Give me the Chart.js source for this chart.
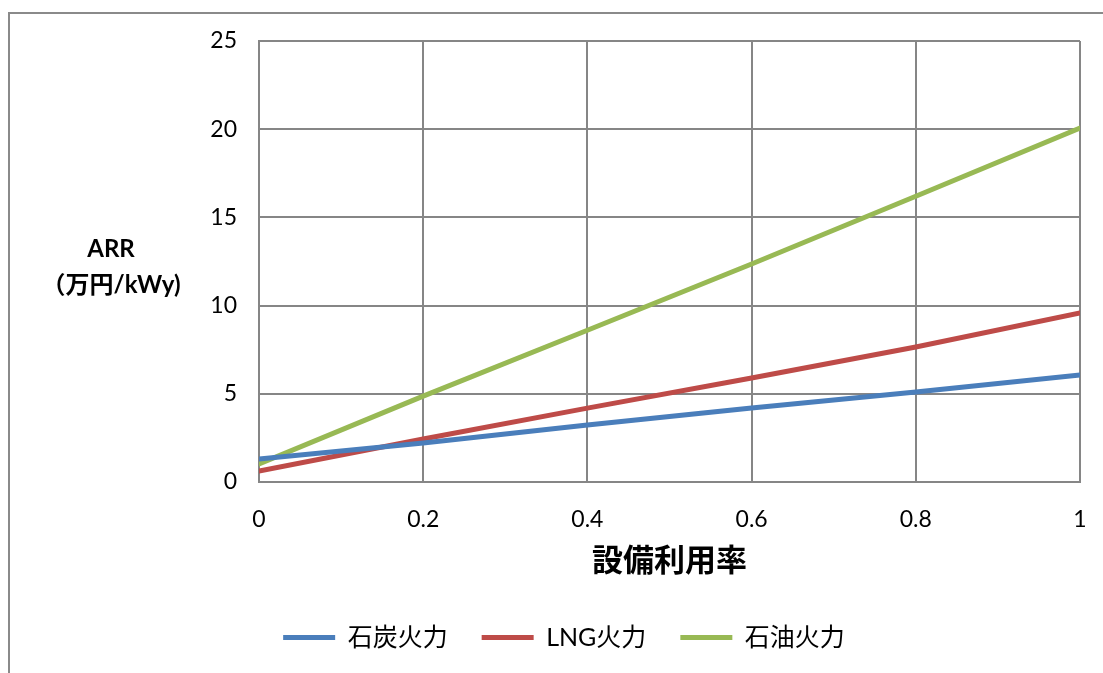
<!DOCTYPE html>
<html>
<head>
<meta charset="utf-8">
<script src="https://cdn.jsdelivr.net/npm/chart.js@4"></script>
<style>
  html, body { margin: 0; padding: 0; background: #fff; }
  #frame {
    position: absolute; left: 8px; top: 12px; width: 1200px; height: 700px;
    border-left: 2px solid #8a8a8a; border-top: 2px solid #8a8a8a;
  }
  #wrap { position: absolute; left: 0; top: 0; width: 1103px; height: 673px; }
</style>
</head>
<body>
<div id="frame"></div>
<div id="wrap"><canvas id="arrChart" width="1103" height="673"></canvas></div>
<script>
// 設備利用率 (x) に対する ARR 値
const utilization = [0, 0.2, 0.4, 0.6, 0.8, 1];
const coal = [1.3, 2.21, 3.23, 4.19, 5.1, 6.07];
const lng = [0.62, 2.44, 4.19, 5.9, 7.65, 9.58];
const oil = [1.02, 4.87, 8.6, 12.36, 16.2, 20.07];

const seriesNames = ['石炭火力', 'LNG火力', '石油火力'];
const seriesColors = ['#4a7ebb', '#be4b48', '#98b954'];
const yTitleLines = ['ARR', '（万円/kWy)'];
const xTitle = '設備利用率';

const FONT = "Lato, 'Noto Sans CJK JP', sans-serif";

function toPoints(values) {
  return utilization.map((x, i) => ({ x: x, y: values[i] }));
}

// 縦軸タイトルは横書きなので自前で描く
const yTitlePlugin = {
  id: 'yTitle',
  afterDraw(chart) {
    const ctx = chart.ctx;
    ctx.save();
    ctx.fillStyle = '#000';
    ctx.textAlign = 'center';
    ctx.textBaseline = 'middle';
    ctx.font = "bold 24px " + FONT;
    ctx.fillText(yTitleLines[0], 111, 249);
    ctx.fillText(yTitleLines[1], 111, 285);
    ctx.restore();
  }
};

const ctx = document.getElementById('arrChart').getContext('2d');
new Chart(ctx, {
  type: 'line',
  data: {
    datasets: [coal, lng, oil].map((vals, i) => ({
      label: seriesNames[i],
      data: toPoints(vals),
      borderColor: seriesColors[i],
      backgroundColor: seriesColors[i],
      borderWidth: 5,
      borderCapStyle: 'round',
      pointRadius: 0,
      tension: 0
    }))
  },
  options: {
    responsive: false,
    animation: false,
    // 左右の余白差で凡例を少し右寄せにする
    layout: { padding: { left: 48, right: 23, top: 41, bottom: 13 } },
    scales: {
      x: {
        type: 'linear',
        min: 0, max: 1,
        ticks: {
          stepSize: 0.2,
          color: '#000',
          padding: 0,
          font: { family: FONT, size: 23 },
          callback: v => String(Math.round(v * 10) / 10)
        },
        // 目盛り線は透明にして、ラベルとの間隔だけに使う
        grid: { color: '#868686', lineWidth: 2, drawTicks: true, tickLength: 24, tickColor: 'rgba(0,0,0,0)' },
        border: { color: '#868686', width: 2 },
        title: {
          display: true,
          text: xTitle,
          color: '#000',
          font: { family: FONT, size: 31, weight: 'bold' },
          padding: { top: 0, bottom: 11 }
        },
        afterFit(scale) { scale.height = 109; }
      },
      y: {
        min: 0, max: 25,
        ticks: {
          stepSize: 5,
          color: '#000',
          padding: 22,
          font: { family: FONT, size: 23 }
        },
        grid: { color: '#868686', lineWidth: 2, drawTicks: false },
        border: { color: '#868686', width: 2 },
        afterFit(scale) { scale.width = 211; }
      }
    },
    plugins: {
      legend: {
        position: 'bottom',
        labels: {
          usePointStyle: true,
          pointStyle: 'line',
          pointStyleWidth: 52,
          boxHeight: 20,
          color: '#000',
          padding: 34,
          font: { family: FONT, size: 25 }
        }
      },
      tooltip: { enabled: false }
    }
  },
  plugins: [yTitlePlugin]
});
</script>
</body>
</html>
